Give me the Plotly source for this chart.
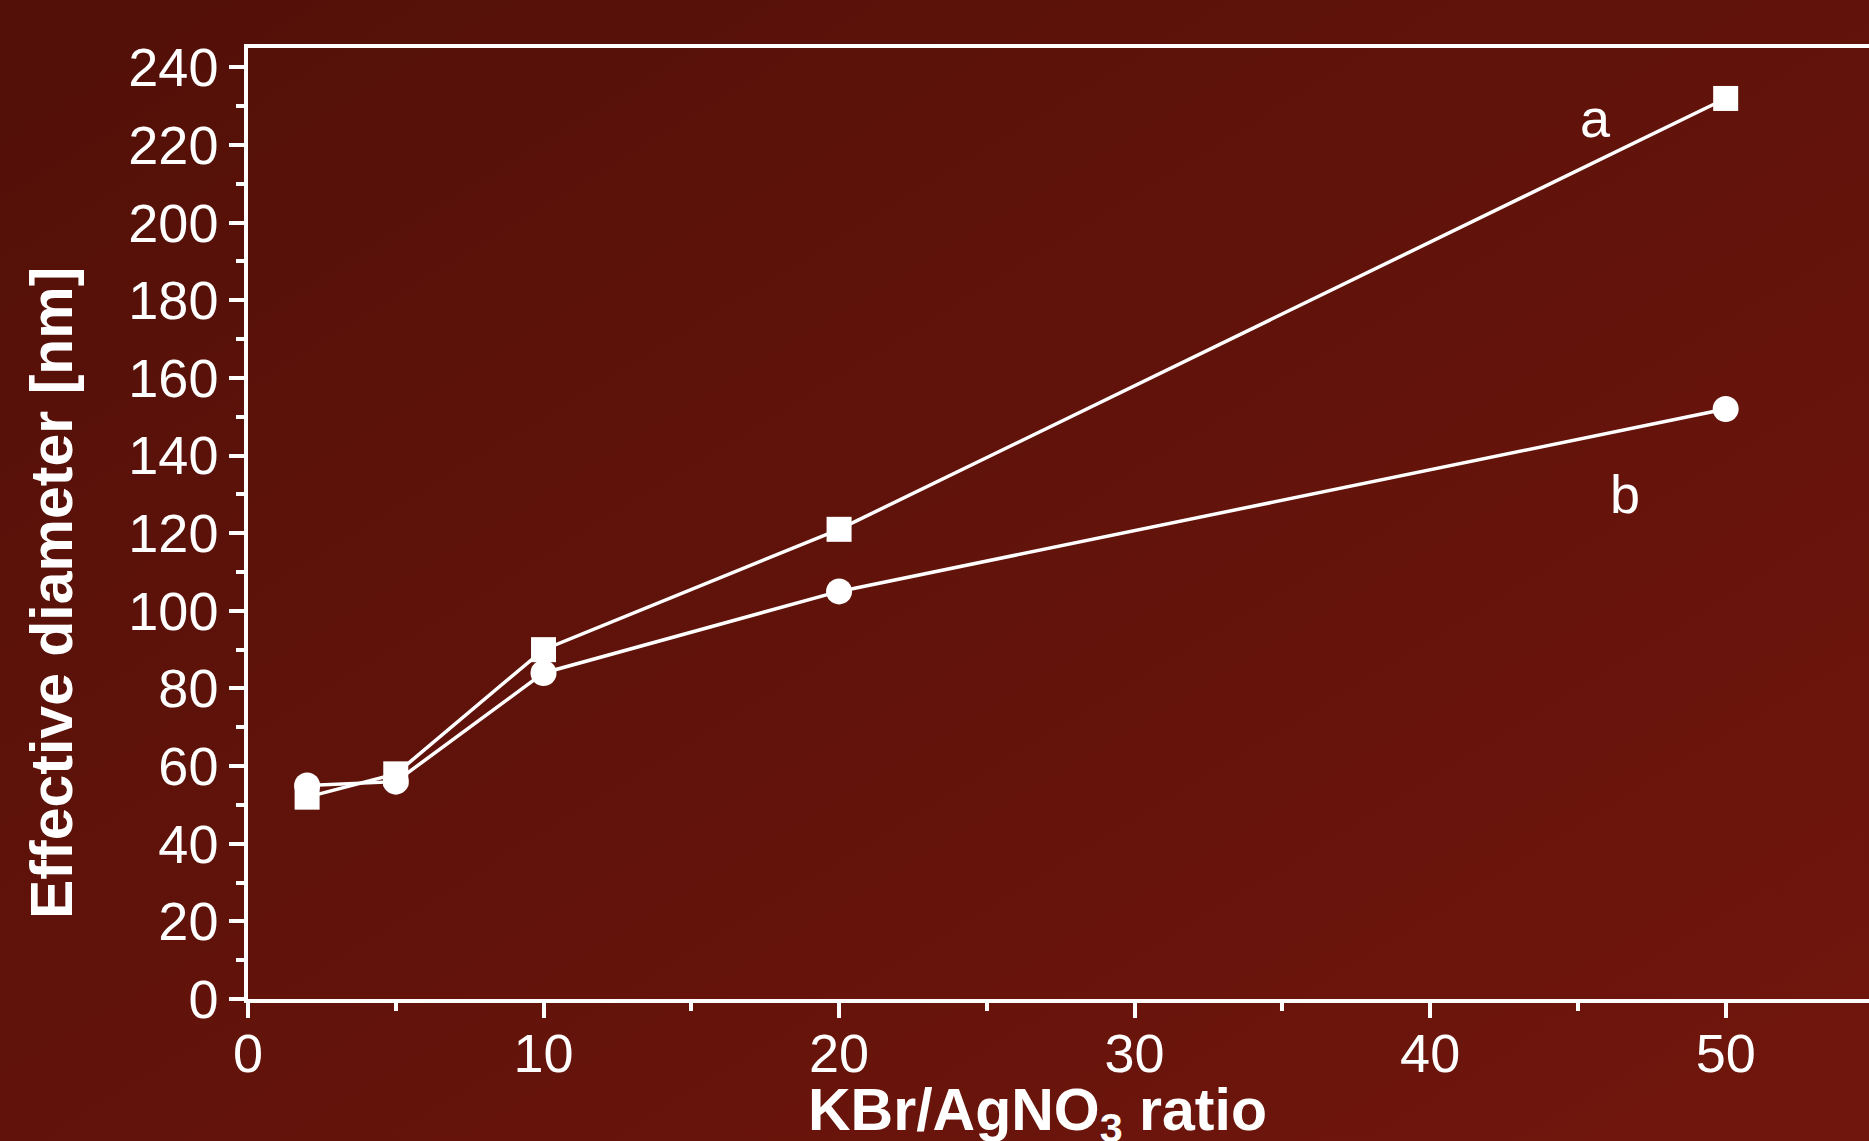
import base64
import plotly.graph_objects as go

# ---- data ----
ratio = [2, 5, 10, 20, 50]
diam_a = [52, 58, 90, 121, 232]
diam_b = [55, 56, 84, 105, 152]
label_a = "a"
label_b = "b"
x_title = "KBr/AgNO<sub>3</sub> ratio"
y_title = "Effective diameter [nm]"

W, H = 1869, 1141
ML, MR, MT, MB = 248, 0, 48, 142
FONT = "Liberation Sans, Arial, sans-serif"
WHITE = "#ffffff"

svg = f'''<svg xmlns="http://www.w3.org/2000/svg" width="{W}" height="{H}">
<defs><linearGradient id="g" x1="0" y1="0" x2="1" y2="1">
<stop offset="0" stop-color="#521008"/><stop offset="1" stop-color="#71160d"/>
</linearGradient></defs><rect width="{W}" height="{H}" fill="url(#g)"/></svg>'''
src = "data:image/svg+xml;base64," + base64.b64encode(svg.encode()).decode()

pw = W - ML - MR
ph = H - MT - MB

fig = go.Figure()
fig.add_trace(go.Scatter(x=ratio, y=diam_a, mode="lines+markers",
                         line=dict(color=WHITE, width=3.5),
                         marker=dict(symbol="square", size=25, color=WHITE),
                         showlegend=False))
fig.add_trace(go.Scatter(x=ratio, y=diam_b, mode="lines+markers",
                         line=dict(color=WHITE, width=3.5),
                         marker=dict(symbol="circle", size=26, color=WHITE),
                         showlegend=False))

axis_common = dict(showgrid=False, zeroline=False, showline=True, linecolor=WHITE,
                   linewidth=3.5, ticks="outside", ticklen=15, tickwidth=3.5,
                   tickcolor=WHITE, tickfont=dict(family=FONT, size=54, color=WHITE))
fig.update_xaxes(range=[0, 54.85], dtick=10, tick0=0, mirror=True, ticklabelstandoff=-11,
                 minor=dict(dtick=5, ticks="outside", ticklen=8, tickwidth=3.5, tickcolor=WHITE),
                 **axis_common)
fig.update_yaxes(range=[0, 245], dtick=20, tick0=0, mirror=False,
                 minor=dict(dtick=10, ticks="outside", ticklen=8, tickwidth=3.5, tickcolor=WHITE),
                 **axis_common)

fig.add_annotation(x=45.6, y=227, text=label_a, showarrow=False,
                   font=dict(family=FONT, size=54, color=WHITE))
fig.add_annotation(x=46.6, y=130, text=label_b, showarrow=False,
                   font=dict(family=FONT, size=54, color=WHITE))

fig.add_annotation(xref="paper", yref="paper", x=(1037 - ML) / pw, y=-(1114 - (H - MB)) / ph,
                   xanchor="center", yanchor="middle", text=f"<b>{x_title}</b>", showarrow=False,
                   font=dict(family=FONT, size=59, color=WHITE))
fig.add_annotation(xref="paper", yref="paper", x=(52 - ML) / pw, y=(H - MB - 593) / ph,
                   xanchor="center", yanchor="middle", textangle=-90,
                   text=f"<b>{y_title}</b>", showarrow=False,
                   font=dict(family=FONT, size=59, color=WHITE))

fig.add_layout_image(dict(source=src, xref="paper", yref="paper",
                          x=-ML / pw, y=1 + MT / ph, sizex=W / pw, sizey=H / ph,
                          xanchor="left", yanchor="top", sizing="stretch", layer="below"))

fig.update_layout(width=W, height=H, margin=dict(l=ML, r=MR, t=MT, b=MB),
                  paper_bgcolor="#5f130a", plot_bgcolor="rgba(0,0,0,0)",
                  font=dict(family=FONT, color=WHITE))
fig.write_html("out.html", config={"displayModeBar": False},
               post_script="document.body.style.margin='0';document.body.style.overflow='hidden';")
